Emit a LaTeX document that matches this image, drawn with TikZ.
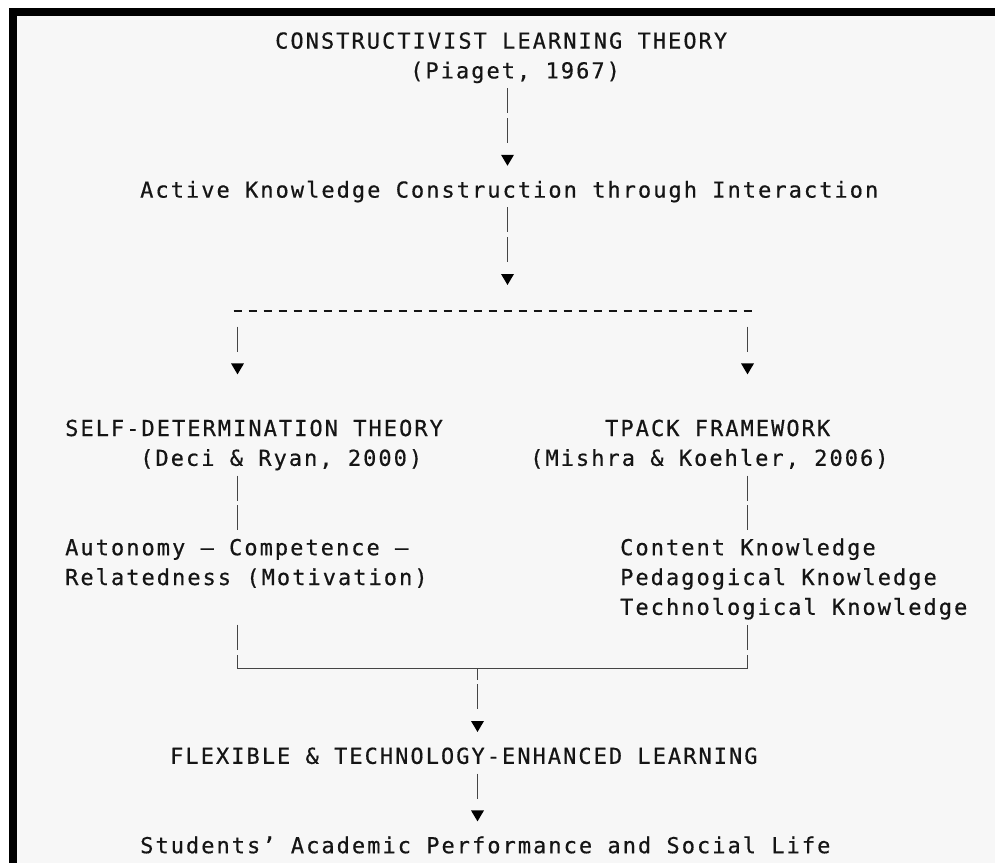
\documentclass[tikz,border=0pt]{standalone}
\usepackage{fontspec}
\usetikzlibrary{arrows.meta, calc}
\newfontfamily\asciifont{DejaVu Sans Mono}[LetterSpace=9.2, FakeBold=0.5]
\definecolor{paper}{HTML}{F7F7F7}
\definecolor{ink}{HTML}{151515}
\definecolor{barcol}{HTML}{454545}

\tikzset{
	txt/.style={anchor=base west, inner sep=0pt, text=ink,
		font=\asciifont\fontsize{22}{29.8}\selectfont},
	bar/.style={draw=barcol, line width=1.8pt},
	stem/.style={bar, -{Triangle[width=12.5pt,length=11pt,color=black]}},
	twobars/.style={dash pattern=on 25pt off 4.8pt on 25pt off 99pt},
	onebar/.style={dash pattern=on 25pt off 99pt},
	rule/.style={draw=ink, line width=1.7pt, dash pattern=on 8pt off 7pt},
}

\begin{document}
\begin{tikzpicture}[x=1pt, y=-1pt, >=Latex]

\useasboundingbox (0,0) rectangle (995,863);
% ===== Frame =====
\fill[white] (0,0) rectangle (995,863);
\fill[paper] (17,16) rectangle (995,863);
\fill[black] (9,8) rectangle (995,16);
\fill[black] (9,8) rectangle (17,863);

% columns of the connectors
\coordinate (colTop) at (507.5,0);
\coordinate (colL) at (237.5,0);
\coordinate (colR) at (747.5,0);
\coordinate (colMid) at (477.5,0);

% ===== Top: constructivism =====
\node[txt] (theory) at (275,48.6) {CONSTRUCTIVIST LEARNING THEORY};
\node[txt] (piaget) at (410,78.4) {(Piaget, 1967)};
\node[txt] (active) at (140,197.6) {Active Knowledge Construction through Interaction};
\coordinate (splitL) at (233.5,310.8);
\coordinate (splitR) at (751.5,310.8);

% ===== Middle: the two frameworks =====
\node[txt] (sdt) at (65,436) {SELF-DETERMINATION THEORY};
\node[txt] (deci) at (140,465.8) {(Deci \& Ryan, 2000)};
\node[txt] (auto) at (65,555.2) {Autonomy – Competence –};
\node[txt] (related) at (65,585) {Relatedness (Motivation)};

\node[txt] (tpack) at (605,436) {TPACK FRAMEWORK};
\node[txt] (mishra) at (530,465.8) {(Mishra \& Koehler, 2006)};
\node[txt] (content) at (620,555.2) {Content Knowledge};
\node[txt] (pedag) at (620,585) {Pedagogical Knowledge};
\node[txt] (techno) at (620,614.8) {Technological Knowledge};

% ===== Bottom: outcome =====
\node[txt] (flex) at (170,763.8) {FLEXIBLE \& TECHNOLOGY-ENHANCED LEARNING};
\node[txt] (students) at (140,853.2) {Students’ Academic Performance and Social Life};

% ===== Connectors =====
\draw[stem, twobars] ($(piaget.base -| colTop)+(0,9.8)$) -- ($(active.base -| colTop)+(0,-31.8)$);
\draw[stem, twobars] ($(active.base -| colTop)+(0,9.8)$) -- ($(splitL -| colTop)+(0,-25.8)$);
\draw[rule] (splitL) -- (splitR);
\draw[stem, onebar] ($(splitL -| colL)+(0,15.8)$) -- ($(sdt.base -| colL)+(0,-61.6)$);
\draw[stem, onebar] ($(splitR -| colR)+(0,15.8)$) -- ($(tpack.base -| colR)+(0,-61.6)$);

\draw[bar, twobars] ($(deci.base -| colL)+(0,9.8)$) -- ($(auto.base -| colL)+(0,-24.8)$);
\draw[bar, twobars] ($(mishra.base -| colR)+(0,9.8)$) -- ($(content.base -| colR)+(0,-24.8)$);

% bracket joining both sides
\coordinate (joinL) at ($(related.base -| colL)+(0,39.6)$);
\coordinate (joinR) at ($(techno.base -| colR)+(0,9.8)$);
\coordinate (join) at ($(related.base -| colMid)+(0,83.4)$);
\draw[bar, dash pattern=on 25pt off 5.8pt on 536pt off 5.8pt on 25pt off 99pt]
	(joinL) |- (join) -| (joinR);

\draw[stem, dash pattern=on 12pt off 3.8pt on 25pt off 99pt] (join) -- ($(flex.base -| colMid)+(0,-31.8)$);
\draw[stem, onebar] ($(flex.base -| colMid)+(0,9.8)$) -- ($(students.base -| colMid)+(0,-31.8)$);

\end{tikzpicture}
\end{document}
